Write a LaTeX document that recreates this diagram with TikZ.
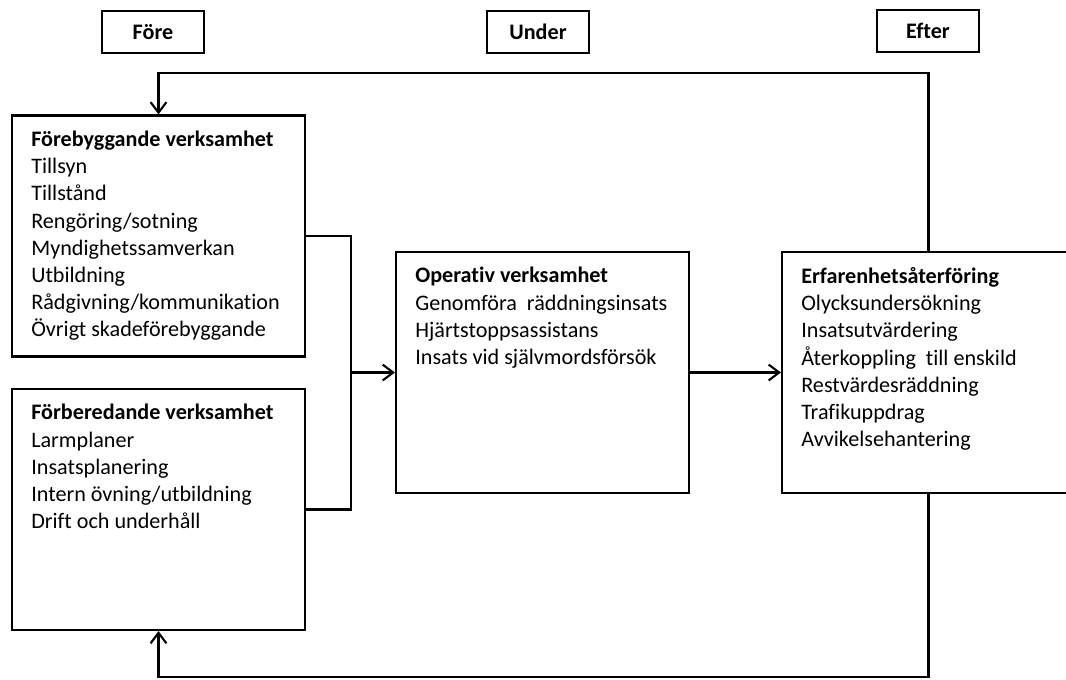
\documentclass[tikz,border=0pt]{standalone}
\usepackage{fontspec}
\setmainfont{Carlito}[Ligatures=CommonOff]
\usetikzlibrary{arrows.meta}

\tikzset{
  phase/.style={draw, line width=1.2pt, minimum width=2.04cm, minimum height=0.84cm,
    font=\fontsize{12.6}{14}\selectfont\bfseries},
  area/.style={draw, line width=1.2pt, inner sep=0pt, minimum width=5.86cm, minimum height=4.82cm},
  list/.style={anchor=north west, align=left, inner sep=0pt,
    font=\fontsize{12.6}{15.5}\selectfont},
  link/.style={line width=1.2pt},
  flow/.style={line width=1.2pt, -{Straight Barb[length=6pt,width=9pt]}},
}

\begin{document}
\begin{tikzpicture}[x=0.02cm,y=-0.02cm]
\useasboundingbox (0,0) rectangle (1066,680);

% phases
\node[phase] (fore) at (153,32) {Före};
\node[phase] (under) at (538,32) {Under};
\node[phase] (efter) at (928,31) {Efter};

% activity boxes
\node[area] (forebygg) at (158.5,236) {};
\node[area] (forbered) at (158.5,509.5) {};
\node[area] (operativ) at (542.5,372.5) {};
\node[area] (erfar) at (928.5,372.5) {};

\node[list] (forebyggtext) at ([shift={(20,16)}]forebygg.north west)
  {\textbf{Förebyggande verksamhet}\\Tillsyn\\Tillstånd\\Rengöring/sotning\\
   Myndighetssamverkan\\Utbildning\\Rådgivning/kommunikation\\Övrigt skadeförebyggande};
\node[list] (forberedtext) at ([shift={(20,16)}]forbered.north west)
  {\textbf{Förberedande verksamhet}\\Larmplaner\\Insatsplanering\\
   Intern övning/utbildning\\Drift och underhåll};
\node[list] (operativtext) at ([shift={(20,16)}]operativ.north west)
  {\textbf{Operativ verksamhet}\\Genomföra\ \ räddningsinsats\\Hjärtstoppsassistans\\
   Insats vid självmordsförsök};
\node[list] (erfartext) at ([shift={(20,16)}]erfar.north west)
  {\textbf{Erfarenhetsåterföring}\\Olycksundersökning\\Insatsutvärdering\\
   Återkoppling\ \ till enskild\\Restvärdesräddning\\Trafikuppdrag\\Avvikelsehantering};

% connectors
\coordinate (join) at (351,377);
\coordinate (topline) at (0,73);
\coordinate (bottomline) at (0,677);

\draw[link] (forebygg.east) -| (join |- forbered.east) -- (forbered.east);
\draw[flow] (join |- operativ.west) -- (operativ.west);
\draw[flow] (operativ.east) -- (erfar.west);
\draw[flow] (erfar.north) -- (erfar.north |- topline) -| (forebygg.north);
\draw[flow] (erfar.south) -- (erfar.south |- bottomline) -| (forbered.south);
\end{tikzpicture}
\end{document}
